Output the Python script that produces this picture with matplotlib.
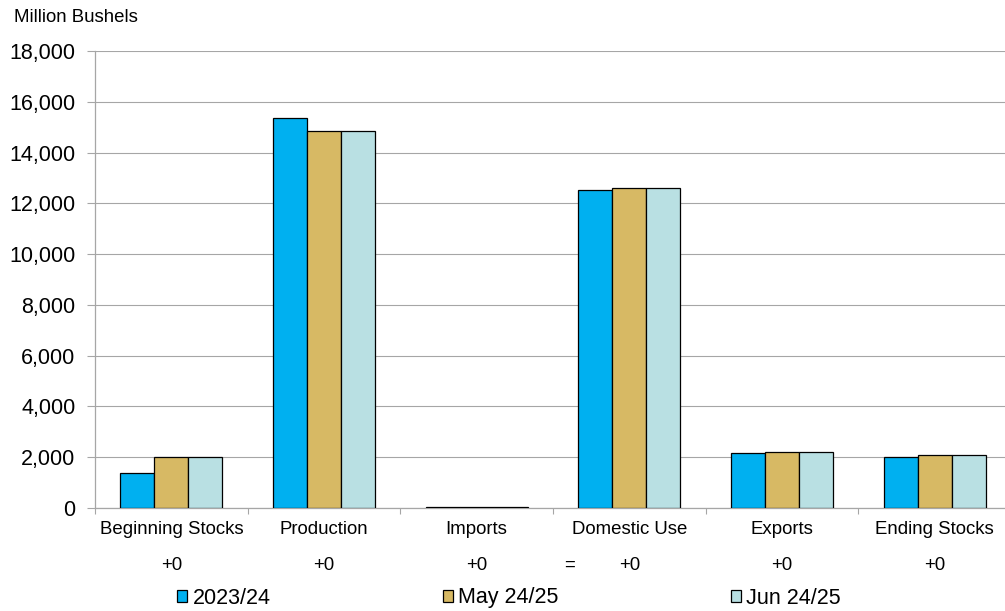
import numpy as np
import matplotlib
matplotlib.use('Agg')
import matplotlib.pyplot as plt
import matplotlib.transforms as mtransforms
from matplotlib.ticker import FuncFormatter, MultipleLocator

plt.rcParams['font.family'] = ['Liberation Sans', 'DejaVu Sans']

categories = ['Beginning Stocks', 'Production', 'Imports', 'Domestic Use', 'Exports', 'Ending Stocks']
series_names = ['2023/24', 'May 24/25', 'Jun 24/25']
vals_2023 = [1360, 15342, 25, 12540, 2150, 2022]
vals_may = [2022, 14860, 25, 12605, 2200, 2102]
vals_jun = [2022, 14860, 25, 12605, 2200, 2102]
changes = ['+0', '+0', '+0', '+0', '+0', '+0']
colors = ['#00B0F0', '#D7B964', '#B9E0E3']

fig = plt.figure(figsize=(10.05, 6.11), dpi=100)
ax = fig.add_axes([95 / 1005, 1 - 508 / 611, 916 / 1005, 457 / 611])

x = np.arange(len(categories))
w = 0.223
for i, (vals, name) in enumerate(zip([vals_2023, vals_may, vals_jun], series_names)):
    ax.bar(x + (i - 1) * w, vals, width=w, color=colors[i], edgecolor='black',
           linewidth=0.9, label=name, zorder=3)

ax.set_xlim(-0.5, len(categories) - 0.5)
ax.set_ylim(0, 18000)
ax.yaxis.set_major_locator(MultipleLocator(2000))
ax.yaxis.set_major_formatter(FuncFormatter(lambda v, p: f'{int(v):,}'))
ax.grid(axis='y', color='#A6A6A6', linewidth=0.8, zorder=0)

for s in ['top', 'right']:
    ax.spines[s].set_visible(False)
for s in ['left', 'bottom']:
    ax.spines[s].set_color('#A6A6A6')
    ax.spines[s].set_linewidth(0.9)

ax.tick_params(axis='y', length=6, width=0.8, color='#A6A6A6', pad=8, labelsize=15.5)
ax.set_xticks(np.arange(-0.5, len(categories), 1.0))
ax.set_xticklabels([])
ax.tick_params(axis='x', length=4, width=0.8, color='#A6A6A6')

# category names and change labels below the axis
trans = mtransforms.blended_transform_factory(ax.transData, fig.transFigure)
for xi, cat, ch in zip(x, categories, changes):
    ax.text(xi, 1 - 530 / 611, cat, transform=trans, ha='center', va='center', fontsize=13.4)
    ax.text(xi, 1 - 565 / 611, ch, transform=trans, ha='center', va='center', fontsize=13.4)
ax.text(2.61, 1 - 565 / 611, '=', transform=trans, ha='center', va='center', fontsize=13.4)

fig.text(14 / 1005, 1 - 17 / 611, 'Million Bushels', ha='left', va='center', fontsize=13.4)

fig.legend(loc='center left', bbox_to_anchor=(177 / 1005, 1 - 598 / 611), ncol=3,
           frameon=False, fontsize=15.5, handlelength=0.47, handleheight=0.47,
           handletextpad=0.25, columnspacing=8.0, borderpad=0, borderaxespad=0)

fig.savefig('out.png', dpi=100)
